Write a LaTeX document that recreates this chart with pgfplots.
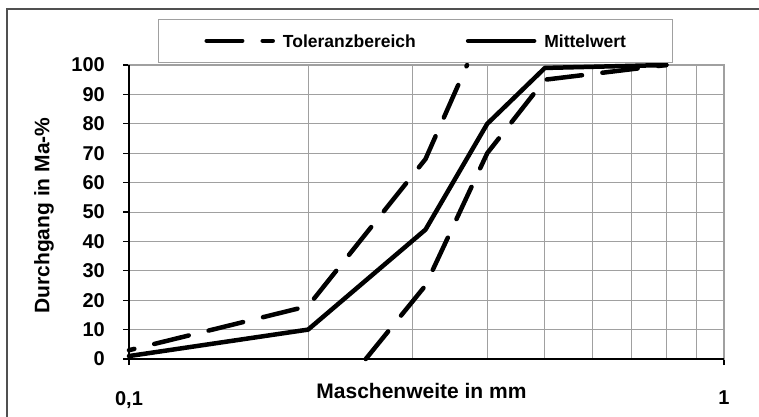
\documentclass[border=0pt]{standalone}
\usepackage{pgfplots}
\pgfplotsset{compat=1.18}
\usepackage{fontspec}
\setmainfont{Liberation Sans}
\definecolor{gridgray}{RGB}{160,160,160}
\definecolor{framegray}{RGB}{80,80,80}
\begin{document}
\begin{tikzpicture}[x=1pt,y=1pt]
\draw[framegray, line width=1.5pt] (7,-5) -- (7,407) -- (770,407);
\begin{axis}[
  at={(129pt,57pt)}, anchor=south west,
  scale only axis, width=595pt, height=294pt,
  xmode=log, log basis x=10,
  xmin=0.1, xmax=1, ymin=0, ymax=100,
  xtick={0.1,1}, xticklabels={{0,1},{1}},
  minor xtick={0.2,0.3,0.4,0.5,0.6,0.7,0.8,0.9},
  xminorgrids=true, xmajorgrids=false,
  ytick={0,10,...,100},
  ymajorgrids=true,
  minor grid style={gridgray, line width=1pt},
  major grid style={gridgray, line width=1pt},
  axis line style={gridgray, line width=1.3pt},
  tick align=outside, xtick pos=bottom, ytick pos=left,
  major tick length=6pt, minor tick length=0pt,
  tick style={black, line width=1.2pt},
  /pgf/number format/assume math mode=true,
  yticklabel style={font=\fontsize{20}{24}\bfseries\selectfont, anchor=east, inner sep=0pt, xshift=-18pt},
  xticklabel style={font=\fontsize{20}{24}\bfseries\selectfont, anchor=north, inner sep=0pt, yshift=-26pt},
  xlabel={Maschenweite in mm},
  ylabel={Durchgang in Ma-\%},
  xlabel style={at={(axis description cs:0.4916,0)}, anchor=base, inner sep=0pt, yshift=-39pt, font=\fontsize{21}{25}\bfseries\selectfont},
  ylabel style={at={(axis description cs:-0.143,0.488)}, anchor=center, inner sep=0pt, font=\fontsize{21}{25}\bfseries\selectfont},
  clip=false,
  legend columns=2,
  legend image code/.code={\draw[#1, dash phase=0pt] (2pt,0pt) -- (68pt,0pt);},
  legend style={at={(0.0487,1.1565)}, anchor=north west, draw=gridgray, line width=1pt,
    inner xsep=46pt, inner ysep=15pt,
    font=\fontsize{17.5}{21}\bfseries\selectfont,
    cells={anchor=center},
    nodes={inner sep=0pt, text depth=0pt, font=\fontsize{17.5}{21}\bfseries\selectfont},
    /tikz/every odd column/.append style={column sep=8pt},
    /tikz/every even column/.append style={column sep=50pt}},
]
\addplot[black, line width=4.5pt, dash pattern=on 35.5pt off 20.5pt, dash phase=30pt, line cap=round, line join=round]
  coordinates {(0.1,3) (0.2,18) (0.315,68) (0.37,100)};
\addlegendentry{Toleranzbereich}
\addplot[black, line width=4.5pt, dash pattern=on 35.5pt off 20.5pt, line cap=round, line join=round, forget plot]
  coordinates {(0.25,0) (0.315,25) (0.4,70) (0.5,95) (0.8,100)};
\addplot[black, line width=4.5pt, solid, line cap=round, line join=round]
  coordinates {(0.1,1) (0.2,10) (0.315,44) (0.4,80) (0.5,99) (0.8,100)};
\addlegendentry{Mittelwert}
\draw[black, line width=1.5pt] (rel axis cs:0,1) -- (rel axis cs:0,0) -- (rel axis cs:1,0);
\end{axis}
\pgfresetboundingbox
\path[use as bounding box] (0,0) rectangle (759,416);
\end{tikzpicture}
\end{document}
